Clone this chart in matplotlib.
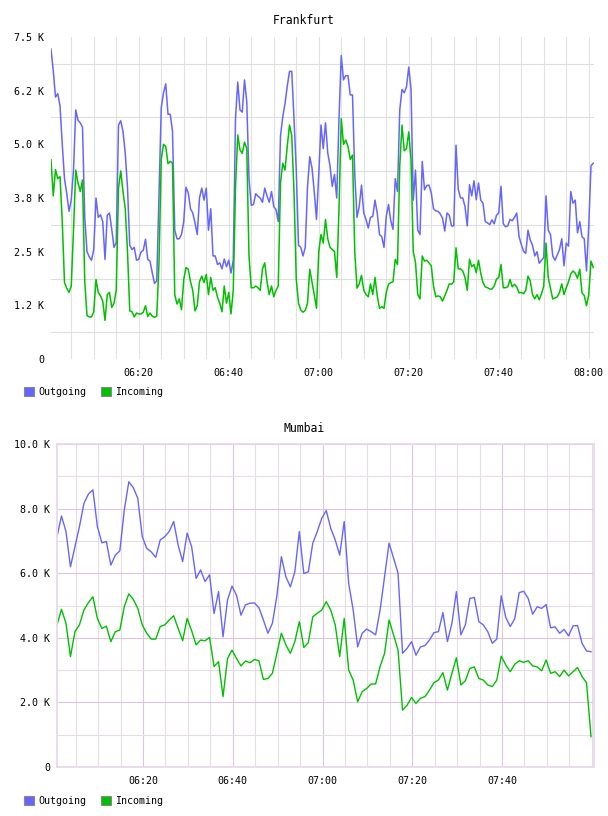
import matplotlib
matplotlib.use('Agg')
import matplotlib.pyplot as plt
import matplotlib.dates as mdates
from matplotlib.patches import Patch
from matplotlib.ticker import FuncFormatter, FixedLocator
import pandas as pd

plt.rcParams['font.family'] = 'DejaVu Sans Mono'

OUT_COLOR = '#6666ff'
IN_COLOR = '#00c000'

# Frankfurt, one sample every 30 s from 06:00:30, values in K
fra_out = [
    # 06:00 - 06:30
    7.22, 6.72, 6.10, 6.18, 5.9, 5.0, 4.2, 3.85, 3.44, 3.7,
    4.4, 5.8, 5.56, 5.5, 5.4, 3.3, 2.5, 2.38, 2.3, 2.55,
    3.75, 3.3, 3.36, 3.2, 2.32, 3.35, 3.4, 3.02, 2.6, 2.71,
    5.45, 5.55, 5.3, 4.79, 4.0, 2.65, 2.55, 2.6, 2.3, 2.32,
    2.49, 2.53, 2.79, 2.32, 2.28, 2.01, 1.76, 1.82, 3.79, 5.85,
    6.2, 6.41, 5.7, 5.7, 5.3, 3.0, 2.8, 2.8, 2.9, 3.2,
    # 06:30 - 07:00
    4.0, 3.87, 3.5, 3.4, 3.17, 2.9, 3.75, 3.98, 3.7, 3.98,
    3.0, 3.5, 2.40, 2.40, 2.2, 2.24, 2.1, 2.33, 2.15, 2.3,
    2.0, 2.3, 5.6, 6.45, 5.8, 5.75, 6.5, 6.0, 4.2, 3.58,
    3.6, 3.85, 3.79, 3.75, 3.65, 3.98, 3.8, 3.65, 3.9, 3.55,
    3.48, 3.2, 5.2, 5.64, 5.95, 6.35, 6.7, 6.7, 5.6, 4.41,
    2.65, 2.6, 2.40, 2.6, 4.0, 4.71, 4.45, 3.9, 3.25, 4.3,
    # 07:00 - 07:30
    5.45, 4.9, 5.5, 4.8, 4.5, 4.02, 4.3, 3.75, 5.6, 7.07,
    6.5, 6.6, 6.6, 6.15, 6.15, 4.3, 3.3, 3.55, 4.05, 3.4,
    3.25, 3.05, 3.3, 3.32, 3.7, 3.4, 2.9, 2.85, 2.6, 3.32,
    3.6, 3.22, 3.02, 4.2, 3.9, 5.8, 6.28, 6.2, 6.34, 6.8,
    6.3, 3.7, 4.4, 3.0, 2.9, 4.6, 3.94, 4.04, 4.05, 3.87,
    3.5, 3.45, 3.44, 3.38, 3.28, 2.98, 3.4, 3.35, 3.1, 3.1,
    # 07:30 - 08:01
    4.98, 3.95, 3.75, 3.75, 3.55, 3.1, 4.06, 3.8, 4.15, 3.71,
    4.1, 3.7, 3.63, 3.2, 3.17, 3.13, 3.24, 3.15, 3.35, 3.4,
    4.02, 3.15, 3.08, 3.1, 3.25, 3.22, 3.3, 3.4, 2.86, 2.67,
    2.51, 2.46, 3.0, 2.77, 2.65, 2.40, 2.5, 2.23, 2.3, 2.36,
    3.8, 3.0, 2.9, 2.4, 2.3, 2.42, 2.55, 2.8, 2.17, 2.7,
    2.63, 3.9, 3.63, 3.7, 2.94, 3.2, 2.85, 2.8, 2.05, 3.1,
    4.5, 4.56,
]
fra_in = [
    # 06:00 - 06:30
    4.64, 3.8, 4.41, 4.2, 4.25, 3.2, 1.78, 1.65, 1.55, 1.7,
    3.0, 4.4, 4.1, 3.9, 4.17, 1.8, 1.01, 0.98, 0.98, 1.1,
    1.85, 1.55, 1.47, 1.35, 0.9, 1.5, 1.55, 1.2, 1.3, 1.6,
    3.98, 4.38, 3.9, 3.5, 2.5, 1.12, 1.1, 0.98, 1.07, 1.05,
    1.05, 1.09, 1.24, 0.99, 1.07, 1.0, 0.97, 1.0, 2.24, 4.65,
    5.0, 4.95, 4.55, 4.6, 4.56, 1.5, 1.28, 1.40, 1.15, 1.85,
    # 06:30 - 07:00
    2.13, 2.09, 1.8, 1.6, 1.12, 1.24, 1.8, 1.93, 1.78, 1.97,
    1.5, 1.9, 1.6, 1.66, 1.44, 1.3, 1.1, 1.7, 1.3, 1.55,
    1.05, 1.6, 4.0, 5.22, 4.87, 4.79, 5.05, 4.9, 2.4, 1.66,
    1.66, 1.70, 1.66, 1.6, 2.1, 2.24, 1.8, 1.5, 1.7, 1.45,
    1.6, 1.7, 4.1, 4.56, 4.4, 4.95, 5.45, 5.2, 3.9, 1.86,
    1.3, 1.14, 1.09, 1.13, 1.3, 2.09, 1.8, 1.5, 1.18, 2.5,
    # 07:00 - 07:30
    2.9, 2.7, 3.25, 2.8, 2.6, 2.55, 2.5, 1.9, 3.5, 5.6,
    5.0, 5.1, 4.95, 4.65, 4.75, 2.5, 1.65, 1.75, 1.95, 1.6,
    1.5, 1.45, 1.75, 1.5, 1.9, 1.47, 1.18, 1.22, 1.18, 1.55,
    1.74, 1.78, 1.8, 2.32, 2.2, 4.5, 5.45, 4.85, 4.9, 5.29,
    4.65, 2.5, 2.25, 1.5, 1.4, 2.4, 2.28, 2.3, 2.24, 2.17,
    1.7, 1.45, 1.47, 1.45, 1.35, 1.47, 1.6, 1.75, 1.74, 1.8,
    # 07:30 - 08:01
    2.59, 2.1, 2.1, 2.05, 1.9, 1.6, 2.32, 2.15, 2.2, 2.01,
    2.3, 2.0, 1.78, 1.68, 1.66, 1.63, 1.63, 1.7, 1.86, 1.9,
    2.2, 1.66, 1.66, 1.68, 1.85, 1.68, 1.74, 1.68, 1.54, 1.55,
    1.52, 1.6, 1.93, 1.82, 1.5, 1.40, 1.5, 1.38, 1.52, 1.7,
    2.7, 1.9, 1.64, 1.4, 1.42, 1.45, 1.55, 1.75, 1.5, 1.66,
    1.8, 1.98, 2.05, 2.0, 1.88, 2.09, 1.54, 1.48, 1.24, 1.5,
    2.28, 2.13,
]

# Mumbai, one sample per minute from 06:00:50, values in K
mum_out = [
    7.13, 7.77, 7.29, 6.20, 6.82, 7.44, 8.16, 8.45, 8.58, 7.44,
    6.94, 6.98, 6.25, 6.56, 6.69, 7.96, 8.83, 8.65, 8.32, 7.13,
    6.77, 6.66, 6.49, 7.03, 7.13, 7.29, 7.6, 6.87, 6.36, 7.24,
    6.82, 5.84, 6.10, 5.74, 5.95, 4.75, 5.43, 4.03, 5.17, 5.6,
    5.32, 4.7, 5.02, 5.07, 5.08, 4.93, 4.55, 4.14, 4.45, 5.3,
    6.51, 5.89, 5.58, 6.04, 7.29, 5.99, 6.04, 6.93, 7.29, 7.70,
    7.94, 7.39, 7.03, 6.56, 7.6, 5.68, 4.86, 3.72, 4.14, 4.27,
    4.19, 4.09, 4.86, 5.9, 6.93, 6.47, 6.0, 3.52, 3.67, 3.88,
    3.46, 3.72, 3.76, 3.93, 4.16, 4.19, 4.78, 3.88, 4.45, 5.43,
    4.09, 4.40, 5.22, 5.25, 4.50, 4.40, 4.19, 3.83, 3.96, 5.3,
    4.63, 4.35, 4.59, 5.4, 5.44, 5.22, 4.73, 4.96, 4.91, 5.03,
    4.31, 4.34, 4.14, 4.26, 4.06, 4.37, 4.38, 3.83, 3.59, 3.57,
]
mum_in = [
    4.40, 4.88, 4.45, 3.42, 4.19, 4.40, 4.86, 5.09, 5.27, 4.60,
    4.29, 4.36, 3.88, 4.19, 4.24, 4.97, 5.36, 5.19, 4.91, 4.40,
    4.14, 3.96, 3.96, 4.35, 4.40, 4.55, 4.68, 4.29, 3.91, 4.60,
    4.22, 3.78, 3.93, 3.91, 4.01, 3.11, 3.26, 2.18, 3.36, 3.62,
    3.36, 3.13, 3.28, 3.23, 3.33, 3.29, 2.71, 2.74, 2.90, 3.52,
    4.14, 3.78, 3.52, 3.88, 4.5, 3.7, 3.85, 4.65, 4.76, 4.86,
    5.12, 4.86, 4.40, 3.42, 4.60, 3.00, 2.69, 2.02, 2.33, 2.43,
    2.57, 2.57, 3.11, 3.52, 4.55, 4.09, 3.62, 1.76, 1.91, 2.15,
    1.97, 2.13, 2.18, 2.38, 2.61, 2.69, 2.92, 2.38, 2.90, 3.38,
    2.54, 2.67, 3.05, 3.10, 2.74, 2.69, 2.54, 2.49, 2.69, 3.43,
    3.16, 2.95, 3.18, 3.29, 3.24, 3.29, 3.13, 3.10, 2.98, 3.31,
    2.90, 2.95, 2.80, 3.00, 2.82, 2.95, 3.08, 2.80, 2.61, 0.94,
]

DAY = '2020-01-01 '
fra_times = pd.date_range(DAY + '06:00:30', periods=len(fra_out), freq='30s')
mum_times = pd.date_range(DAY + '06:00:50', periods=len(mum_out), freq='1min')

fra_ticks = ['06:20', '06:40', '07:00', '07:20', '07:40', '08:00']
mum_ticks = ['06:20', '06:40', '07:00', '07:20', '07:40']
fra_yticks = [0, 1250, 2500, 3750, 5000, 6250, 7500]
mum_yticks = [0, 2000, 4000, 6000, 8000, 10000]

W, H = 608, 816


def box(x0, y0, x1, y1):
    # pixel box (top-left origin) -> figure fraction
    return [x0 / W, (H - y1) / H, (x1 - x0) / W, (y1 - y0) / H]


def kilo(v, pos):
    if v == 0:
        return '0'
    return '%.1f K' % (v / 1000.0)


def tick_nums(labels):
    return [mdates.date2num(pd.Timestamp(DAY + t)) for t in labels]


def legend(ax, y):
    handles = [Patch(facecolor=OUT_COLOR, edgecolor='#888888', linewidth=0.8),
               Patch(facecolor=IN_COLOR, edgecolor='#888888', linewidth=0.8)]
    ax.legend(handles, ['Outgoing', 'Incoming'], loc='center left',
              bbox_to_anchor=(24 / W, 1 - y / H), bbox_transform=fig.transFigure,
              ncol=2, frameon=False, fontsize=7.2, handlelength=1.0,
              handleheight=1.0, handletextpad=0.4, columnspacing=1.5,
              borderpad=0, borderaxespad=0)


fig = plt.figure(figsize=(W / 100, H / 100), dpi=100)

# ---- Frankfurt ----
ax1 = fig.add_axes(box(51, 37, 594, 359))
ax1.plot(fra_times, [v * 1000 for v in fra_out], color=OUT_COLOR, lw=1.1)
ax1.plot(fra_times, [v * 1000 for v in fra_in], color=IN_COLOR, lw=1.1)
ax1.set_xlim(pd.Timestamp(DAY + '06:00:30'), pd.Timestamp(DAY + '08:01:10'))
ax1.set_ylim(0, 7500)
ax1.xaxis.set_major_locator(FixedLocator(tick_nums(fra_ticks)))
ax1.xaxis.set_minor_locator(mdates.MinuteLocator(byminute=range(0, 60, 5)))
ax1.xaxis.set_major_formatter(mdates.DateFormatter('%H:%M'))
ax1.yaxis.set_major_locator(FixedLocator(fra_yticks))
ax1.yaxis.set_minor_locator(FixedLocator([625 + 1250 * k for k in range(6)]))
ax1.yaxis.set_major_formatter(FuncFormatter(kilo))
ax1.grid(axis='x', which='both', color='#e2e2e2', lw=0.8)
ax1.grid(axis='y', which='minor', color='#dedede', lw=0.8)
ax1.set_axisbelow(True)
for s in ax1.spines.values():
    s.set_visible(False)
ax1.tick_params(which='both', length=0, labelsize=7.2)
ax1.tick_params(axis='x', pad=6.5)
ax1.tick_params(axis='y', pad=5)
fig.text(0.5, 1 - 20 / H, 'Frankfurt', ha='center', va='center', fontsize=8.3)
legend(ax1, 392)

# ---- Mumbai ----
ax2 = fig.add_axes(box(57, 444, 594, 767))
ax2.plot(mum_times, [v * 1000 for v in mum_out], color=OUT_COLOR, lw=1.0)
ax2.plot(mum_times, [v * 1000 for v in mum_in], color=IN_COLOR, lw=1.0)
ax2.set_xlim(pd.Timestamp(DAY + '06:00:50'), pd.Timestamp(DAY + '08:00:30'))
ax2.set_ylim(0, 10000)
ax2.xaxis.set_major_locator(FixedLocator(tick_nums(mum_ticks)))
ax2.xaxis.set_minor_locator(mdates.MinuteLocator(byminute=range(0, 60, 5)))
ax2.xaxis.set_major_formatter(mdates.DateFormatter('%H:%M'))
ax2.yaxis.set_major_locator(FixedLocator(mum_yticks))
ax2.yaxis.set_minor_locator(FixedLocator([1000 + 2000 * k for k in range(5)]))
ax2.yaxis.set_major_formatter(FuncFormatter(kilo))
ax2.grid(which='major', color='#dcc6dc', lw=0.8)
ax2.grid(which='minor', color='#e6dde6', lw=0.8)
ax2.set_axisbelow(True)
for s in ax2.spines.values():
    s.set_color('#ead8ea')
    s.set_linewidth(1.3)
ax2.tick_params(which='both', length=0, labelsize=7.2)
ax2.tick_params(axis='x', pad=6.5)
ax2.tick_params(axis='y', pad=5)
fig.text(0.5, 1 - 428 / H, 'Mumbai', ha='center', va='center', fontsize=8.3)
legend(ax2, 801)

fig.savefig('out.png', dpi=100)
